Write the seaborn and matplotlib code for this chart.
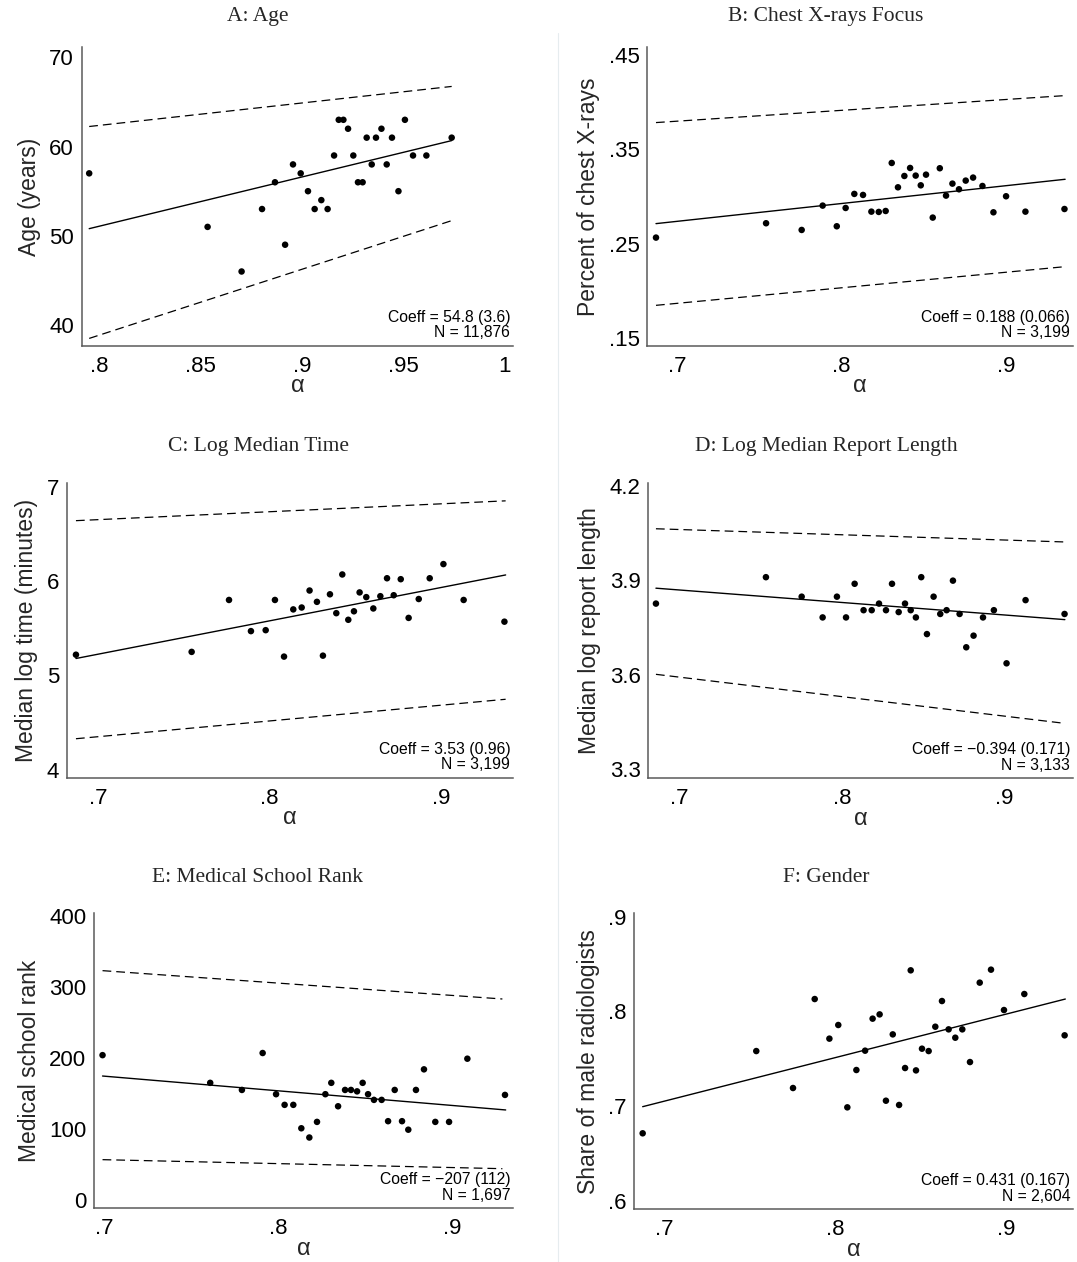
import numpy as np
import pandas as pd
import matplotlib
matplotlib.use("Agg")
import matplotlib.pyplot as plt
import seaborn as sns

# ---------------- data ----------------
titles = ["A: Age", "B: Chest X-rays Focus", "C: Log Median Time",
          "D: Log Median Report Length", "E: Medical School Rank", "F: Gender"]
ylabels = ["Age (years)", "Percent of chest X-rays", "Median log time (minutes)",
           "Median log report length", "Medical school rank", "Share of male radiologists"]
coeff_texts = ["Coeff = 54.8 (3.6)\nN = 11,876", "Coeff = 0.188 (0.066)\nN = 3,199",
               "Coeff = 3.53 (0.96)\nN = 3,199", "Coeff = \u22120.394 (0.171)\nN = 3,133",
               "Coeff = \u2212207 (112)\nN = 1,697", "Coeff = 0.431 (0.167)\nN = 2,604"]

# Panel A: Age
a_x = [0.795, 0.8535, 0.8703, 0.8804, 0.8868, 0.8918, 0.8957, 0.8995, 0.9031, 0.9064,
       0.9097, 0.9128, 0.9160, 0.9183, 0.9206, 0.9229, 0.9255, 0.9278, 0.9301, 0.9321,
       0.9346, 0.9367, 0.9394, 0.9420, 0.9446, 0.9478, 0.9510, 0.9550, 0.9616, 0.9741]
a_y = [57, 51, 46, 53, 56, 49, 58, 57, 55, 53,
       54, 53, 59, 63, 63, 62, 59, 56, 56, 61,
       58, 61, 62, 58, 61, 55, 63, 59, 59, 61]
a_fit_x = [0.795, 0.9741]
a_fit = [50.8, 60.67]
a_hi = [62.25, 66.74]
a_lo = [38.5, 51.7]

# Panel B: Chest X-rays
b_x = [0.6868, 0.7539, 0.7756, 0.7884, 0.7970, 0.8024, 0.8077, 0.8130, 0.8181, 0.8226,
       0.8268, 0.8305, 0.8343, 0.8382, 0.8417, 0.8451, 0.8482, 0.8514, 0.8555, 0.8598,
       0.8636, 0.8675, 0.8715, 0.8756, 0.8801, 0.8858, 0.8925, 0.9002, 0.9120, 0.9358]
b_y = [0.2564, 0.2716, 0.2645, 0.2903, 0.2684, 0.2878, 0.3027, 0.3016, 0.2839, 0.2836,
       0.2846, 0.3355, 0.3097, 0.3217, 0.3302, 0.3221, 0.3118, 0.3231, 0.2776, 0.3299,
       0.3009, 0.3136, 0.3076, 0.3168, 0.3200, 0.3111, 0.2832, 0.3002, 0.2839, 0.2867]
b_fit_x = [0.6868, 0.9362]
b_fit = [0.2712, 0.3182]
b_hi = [0.3783, 0.4069]
b_lo = [0.1846, 0.2256]

# Panel C: Log median time
c_x = [0.687, 0.7545, 0.7763, 0.7891, 0.7977, 0.8031, 0.8084, 0.8138, 0.8187, 0.8233,
       0.8276, 0.8311, 0.8352, 0.8389, 0.8424, 0.8459, 0.8492, 0.8525, 0.8564, 0.8605,
       0.8646, 0.8685, 0.8724, 0.8765, 0.8811, 0.8870, 0.8934, 0.9014, 0.9132, 0.9370]
c_y = [5.22, 5.25, 5.80, 5.47, 5.48, 5.80, 5.20, 5.70, 5.72, 5.90,
       5.78, 5.21, 5.86, 5.66, 6.07, 5.59, 5.68, 5.88, 5.83, 5.71,
       5.84, 6.03, 5.85, 6.02, 5.61, 5.81, 6.03, 6.18, 5.80, 5.57]
c_fit_x = [0.687, 0.9377]
c_fit = [5.18, 6.065]
c_hi = [6.64, 6.85]
c_lo = [4.33, 4.748]

# Panel D: Log median report length
d_x = [0.6856, 0.7533, 0.7753, 0.7882, 0.7970, 0.8026, 0.8079, 0.8134, 0.8184, 0.8229,
       0.8272, 0.8309, 0.8350, 0.8389, 0.8424, 0.8456, 0.8489, 0.8524, 0.8565, 0.8606,
       0.8645, 0.8684, 0.8725, 0.8766, 0.8811, 0.8869, 0.8936, 0.9014, 0.9131, 0.9371]
d_y = [3.826, 3.910, 3.848, 3.782, 3.848, 3.782, 3.889, 3.805, 3.805, 3.826,
       3.805, 3.889, 3.799, 3.826, 3.805, 3.782, 3.910, 3.729, 3.848, 3.793,
       3.805, 3.899, 3.793, 3.687, 3.724, 3.782, 3.805, 3.636, 3.837, 3.793]
d_fit_x = [0.6856, 0.9373]
d_fit = [3.875, 3.775]
d_hi = [4.064, 4.022]
d_lo = [3.601, 3.445]

# Panel E: Medical school rank
e_x = [0.6992, 0.7610, 0.7792, 0.7911, 0.7988, 0.8037, 0.8087, 0.8133, 0.8179, 0.8223,
       0.8271, 0.8305, 0.8344, 0.8384, 0.8418, 0.8453, 0.8485, 0.8516, 0.8550, 0.8594,
       0.8631, 0.8669, 0.8711, 0.8747, 0.8791, 0.8837, 0.8902, 0.8981, 0.9086, 0.9302]
e_y = [204, 165, 155, 207, 149, 134, 134, 101, 88, 110,
       149, 165, 132, 155, 155, 153, 165, 149, 141, 141,
       111, 155, 111, 99, 155, 184, 110, 110, 199, 148]
e_fit_x = [0.6992, 0.9306]
e_fit = [174.6, 126.8]
e_band_x = [0.6992, 0.9287]
e_hi = [323, 283.1]
e_lo = [56.8, 44.1]

# Panel F: Gender
f_x = [0.6875, 0.7540, 0.7755, 0.7882, 0.7968, 0.8020, 0.8073, 0.8126, 0.8177, 0.8221,
       0.8262, 0.8299, 0.8339, 0.8376, 0.8411, 0.8444, 0.8475, 0.8510, 0.8549, 0.8588,
       0.8627, 0.8666, 0.8705, 0.8746, 0.8791, 0.8848, 0.8914, 0.8990, 0.9109, 0.9345]
f_y = [0.6714, 0.7582, 0.7192, 0.8131, 0.7713, 0.7857, 0.6988, 0.7382, 0.7586, 0.7924,
       0.7969, 0.7058, 0.7758, 0.7013, 0.7403, 0.8434, 0.7378, 0.7607, 0.7582, 0.7839,
       0.8110, 0.7811, 0.7723, 0.7811, 0.7466, 0.8304, 0.8441, 0.8015, 0.8184, 0.7748]
f_fit_x = [0.6875, 0.9349]
f_fit = [0.6995, 0.8131]

xticks_A = [0.8, 0.85, 0.9, 0.95, 1.0]
xticklabels_A = [".8", ".85", ".9", ".95", "1"]
xticks_std = [0.7, 0.8, 0.9]
xticklabels_std = [".7", ".8", ".9"]
yticks = [[40, 50, 60, 70], [0.15, 0.25, 0.35, 0.45], [4, 5, 6, 7],
          [3.3, 3.6, 3.9, 4.2], [0, 100, 200, 300, 400], [0.6, 0.7, 0.8, 0.9]]
yticklabels = [["40", "50", "60", "70"], [".15", ".25", ".35", ".45"], ["4", "5", "6", "7"],
               ["3.3", "3.6", "3.9", "4.2"], ["0", "100", "200", "300", "400"],
               [".6", ".7", ".8", ".9"]]

# ---------------- layout ----------------
W, H = 1077, 1262
sns.set_theme(style="white")
plt.rcParams["font.family"] = ["Liberation Sans", "DejaVu Sans"]

fig = plt.figure(figsize=(W / 100, H / 100), dpi=100)
fig.patch.set_facecolor("white")

# pixel boxes (left, right, top, bottom)
boxes = [(81.7, 513, 47, 346), (647.3, 1073, 47, 346),
         (66.7, 513, 483, 778), (648.3, 1073, 483.3, 778.3),
         (94, 513, 913, 1208.3), (634.3, 1073, 913, 1209.3)]
xlims = [(0.7913, 1.0044), (0.6815, 0.941), (0.6816, 0.942),
         (0.6809, 0.9423), (0.6943, 0.9348), (0.6826, 0.9394)]
ylims = [(37.65, 71.16), (0.1415, 0.4584), (3.914, 7.039),
         (3.2703, 4.2086), (-11.7, 404.2), (0.5912, 0.9039)]
title_cx = [258, 826]
title_cy = [17, 447, 877]

panels = [
    dict(x=a_x, y=a_y, fx=a_fit_x, fit=a_fit, bx=a_fit_x, hi=a_hi, lo=a_lo),
    dict(x=b_x, y=b_y, fx=b_fit_x, fit=b_fit, bx=b_fit_x, hi=b_hi, lo=b_lo),
    dict(x=c_x, y=c_y, fx=c_fit_x, fit=c_fit, bx=c_fit_x, hi=c_hi, lo=c_lo),
    dict(x=d_x, y=d_y, fx=d_fit_x, fit=d_fit, bx=d_fit_x, hi=d_hi, lo=d_lo),
    dict(x=e_x, y=e_y, fx=e_fit_x, fit=e_fit, bx=e_band_x, hi=e_hi, lo=e_lo),
    dict(x=f_x, y=f_y, fx=f_fit_x, fit=f_fit, bx=None, hi=None, lo=None),
]

axis_col = "#5a5a5a"
for i, p in enumerate(panels):
    l, r, t, b = boxes[i]
    ax = fig.add_axes([l / W, 1 - b / H, (r - l) / W, (b - t) / H])
    ax.set_facecolor("white")
    df = pd.DataFrame({"alpha": p["x"], "val": p["y"]})
    sns.scatterplot(data=df, x="alpha", y="val", ax=ax, color="black", s=22,
                    edgecolor="none", zorder=3)
    sns.lineplot(x=p["fx"], y=p["fit"], ax=ax, color="black", lw=1.0,
                 estimator=None, sort=False)
    if p["hi"] is not None:
        for band in (p["hi"], p["lo"]):
            sns.lineplot(x=p["bx"], y=band, ax=ax, color="black", lw=0.9,
                         linestyle=(0, (7, 4)), estimator=None, sort=False)
    ax.set_xlim(*xlims[i])
    ax.set_ylim(*ylims[i])
    if i == 0:
        ax.set_xticks(xticks_A)
        ax.set_xticklabels(xticklabels_A)
    else:
        ax.set_xticks(xticks_std)
        ax.set_xticklabels(xticklabels_std)
    ax.set_yticks(yticks[i])
    ax.set_yticklabels(yticklabels[i])
    for s in ("top", "right"):
        ax.spines[s].set_visible(False)
    for s in ("left", "bottom"):
        ax.spines[s].set_color(axis_col)
        ax.spines[s].set_linewidth(1.1)
    ax.tick_params(axis="both", direction="out", length=4, width=1.0,
                   color=axis_col, labelcolor="black", labelsize=16)
    ax.tick_params(axis="y", pad=1.5)
    ax.tick_params(axis="x", pad=3)
    ax.set_xlabel("\u03b1", fontsize=17, labelpad=-1)
    ax.set_ylabel(ylabels[i], fontsize=16.5, labelpad=6)
    ax.annotate(coeff_texts[i], xy=(1, 0), xycoords="axes fraction",
                xytext=(-2, 4), textcoords="offset points", ha="right",
                va="bottom", fontsize=11.3, linespacing=1.05, color="black")
    col = i % 2
    row = i // 2
    fig.text(title_cx[col] / W, 1 - title_cy[row] / H, titles[i],
             ha="center", va="center", fontsize=15.5, family="Liberation Serif")

# faint separator between the two columns
fig.add_artist(plt.Line2D([558 / W, 558 / W], [0, 1 - 33 / H],
                          transform=fig.transFigure, color="#e6ecef", lw=0.8))

fig.savefig("out.png", dpi=100, facecolor="white")
